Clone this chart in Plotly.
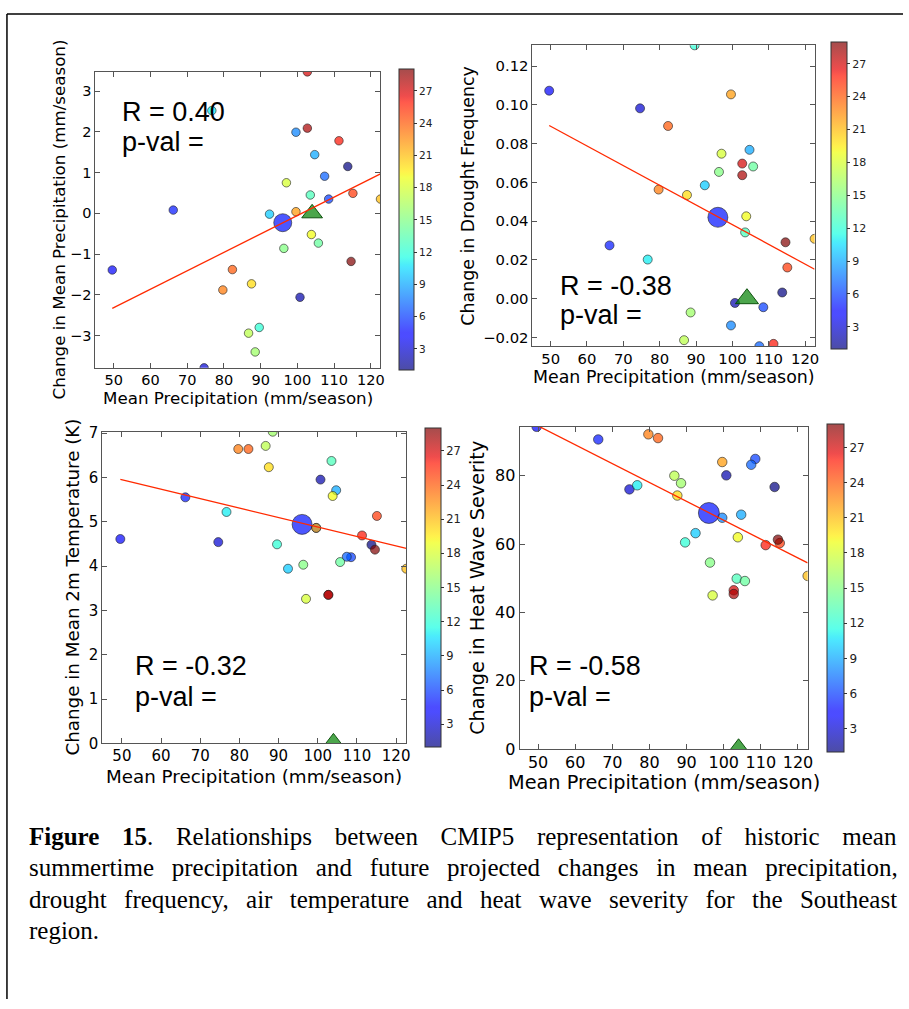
import numpy as np
import plotly.graph_objects as go

W, H = 909, 1009

# ---- data (29 CMIP5 models, coloured by model number) ----
MODEL_ID = list(range(1, 30))
HIST_PRECIP = [113.7, 100.7, 74.6, 49.6, 66.2, 108.5, 107.4, 99.6, 104.7, 92.4,
               76.7, 89.6, 103.5, 105.7, 96.3, 88.5, 86.7, 97.0, 103.8, 87.5,
               122.6, 99.6, 79.7, 82.3, 115.1, 111.3, 102.7, 102.7, 114.6]
D_PRECIP = [1.15, -2.06, -3.79, -1.39, 0.08, 0.35, 0.91, 1.99, 1.44, -0.02,
            2.52, -2.80, 0.45, -0.73, -0.86, -3.40, -2.94, 0.75, -0.52, -1.73,
            0.35, 0.04, -1.88, -1.38, 0.49, 1.78, 3.47, 2.09, -1.18]
D_DROUGHT = [0.0032, -0.0022, 0.0982, 0.1073, 0.0275, -0.0044, -0.0245, -0.0138, 0.0768, 0.0585,
             0.0202, 0.1307, 0.0342, 0.0682, 0.0654, -0.0071, -0.0214, 0.0748, 0.0425, 0.0535,
             0.0309, 0.1054, 0.0563, 0.0891, 0.0161, -0.0233, 0.0697, 0.0637, 0.0291]
D_TEMP = [4.48, 5.95, 4.54, 4.61, 5.55, 4.20, 4.21, 4.86, 5.71, 3.94,
          5.22, 4.49, 6.37, 4.09, 4.03, 7.03, 6.71, 3.26, 5.58, 6.23,
          3.94, 4.86, 6.64, 6.64, 5.13, 4.69, 3.35, 3.35, 4.37]
D_HEATWAVE = [76.7, 80.1, 76.0, 94.3, 90.6, 84.9, 83.2, 67.7, 68.6, 63.2,
              77.2, 60.5, 49.9, 49.2, 54.6, 77.8, 80.0, 45.0, 62.0, 74.2,
              50.7, 84.0, 92.1, 91.0, 60.3, 59.7, 46.5, 45.4, 61.3]

MEAN_X = 96.0
MEAN_Y = [-0.23, 0.042, 4.94, 69.1]
OBS_X = 104.0
OBS_Y = [0.0, 0.0, 0.0, 0.0]

R_TEXT = ["R = 0.40", "R = -0.38", "R = -0.32", "R = -0.58"]
Y_TITLES = ["Change in Mean Precipitation (mm/season)", "Change in Drought Frequency",
            "Change in Mean 2m Temperature (K)", "Change in Heat Wave Severity"]
X_TITLE = "Mean Precipitation (mm/season)"
X_TICKS = [50, 60, 70, 80, 90, 100, 110, 120]
Y_TICKS = [[-3, -2, -1, 0, 1, 2, 3],
           [-0.02, 0.0, 0.02, 0.04, 0.06, 0.08, 0.10, 0.12],
           [0, 1, 2, 3, 4, 5, 6, 7],
           [0, 20, 40, 60, 80]]
Y_FORMAT = ["", ".2f", "", ""]
CBAR_TICKS = [3, 6, 9, 12, 15, 18, 21, 24, 27]

CAPTION = [
    ("Figure 15", ". Relationships between CMIP5 representation of historic mean", 16.4),
    ("", "summertime precipitation and future projected changes in mean precipitation,", 11.5),
    ("", "drought frequency, air temperature and heat wave severity for the Southeast", 11.1),
    ("", "region.", 0),
]

# matplotlib "jet" with alpha 0.7
JET = [(0.0, (0, 0, 128)), (0.11, (0, 0, 255)), (0.125, (0, 0, 255)), (0.34, (0, 219, 255)),
       (0.35, (0, 230, 247)), (0.375, (21, 255, 226)), (0.64, (238, 255, 8)),
       (0.65, (247, 246, 0)), (0.66, (255, 236, 0)), (0.89, (255, 19, 0)),
       (0.91, (232, 0, 0)), (1.0, (128, 0, 0))]
JET_A = [[t, f"rgba({r},{g},{b},0.7)"] for t, (r, g, b) in JET]

# panel geometry in page pixels: plot box, colorbar, fonts, text spots
PANELS = [
    dict(box=(96, 66, 383, 367), cb=(401.7, 66, 367, 15), tick=14.5, title=16.7, cbt=10.5,
         ytx=59, xty=397.7, rpos=(121, 106.6, 137.6), ms=8.5, big=18, tri=18),
    dict(box=(536, 39, 820, 345), cb=(837, 38, 345, 16), tick=14.8, title=17.4, cbt=11,
         ytx=471, xty=376.7, rpos=(561.7, 283.9, 313.3), ms=9, big=20, tri=20),
    dict(box=(103, 432, 409, 749), cb=(428, 431, 750, 16), tick=15, title=18.3, cbt=11.5,
         ytx=73.5, xty=782.7, rpos=(134.3, 670.6, 702.3), ms=9, big=20, tri=20),
    dict(box=(523, 427, 813, 755), cb=(832, 427, 755, 17), tick=16, title=19.3, cbt=12,
         ytx=480, xty=789, rpos=(530, 670.6, 702.3), ms=9.5, big=21, tri=21),
]

SERIES = [D_PRECIP, D_DROUGHT, D_TEMP, D_HEATWAVE]

fig = go.Figure()
layout = {}
annotations = []
x = np.array(HIST_PRECIP)

for i, (vals, p) in enumerate(zip(SERIES, PANELS)):
    n = "" if i == 0 else str(i + 1)
    xa, ya = "x" + n, "y" + n
    x0, y0, x1, y1 = p["box"]
    cx, ct, cbm, cw = p["cb"]
    y = np.array(vals)

    fig.add_trace(go.Scatter(
        x=HIST_PRECIP, y=vals, mode="markers", xaxis=xa, yaxis=ya, showlegend=False,
        marker=dict(color=MODEL_ID, colorscale=JET_A, cmin=1, cmax=29, size=p["ms"],
                    line=dict(color="rgba(30,30,30,0.75)", width=0.8), showscale=True,
                    colorbar=dict(x=cx / W, xanchor="left", xpad=0, y=1 - (ct + cbm) / 2 / H,
                                  yanchor="middle", ypad=0, len=cbm - ct, lenmode="pixels",
                                  thickness=cw, outlinecolor="#333", outlinewidth=1,
                                  tickvals=CBAR_TICKS, ticks="outside", ticklen=3, tickcolor="#333",
                                  tickfont=dict(family="DejaVu Sans", size=p["cbt"], color="#222")))))
    fig.add_trace(go.Scatter(
        x=[MEAN_X], y=[MEAN_Y[i]], mode="markers", xaxis=xa, yaxis=ya, showlegend=False,
        marker=dict(color="rgba(0,15,255,0.7)", size=p["big"],
                    line=dict(color="rgba(30,30,30,0.75)", width=0.8))))
    fig.add_trace(go.Scatter(
        x=[OBS_X], y=[OBS_Y[i]], mode="markers", xaxis=xa, yaxis=ya, showlegend=False,
        marker=dict(color="rgba(0,128,0,0.7)", size=p["tri"], symbol="triangle-up",
                    line=dict(color="rgba(0,70,0,0.9)", width=1))))

    # least-squares line across the models
    slope, icpt = np.polyfit(x, y, 1)
    xl = np.array([x.min(), x.max()])
    fig.add_trace(go.Scatter(x=xl, y=slope * xl + icpt, mode="lines", xaxis=xa, yaxis=ya,
                             showlegend=False, line=dict(color="#ff2a00", width=1.3)))

    allv = vals + [MEAN_Y[i], OBS_Y[i]]
    common = dict(showline=True, mirror="ticks", linecolor="#555", linewidth=1, ticks="inside",
                  ticklen=5, tickcolor="#555", showgrid=False, zeroline=False,
                  tickfont=dict(family="DejaVu Sans", size=p["tick"], color="black"))
    layout["xaxis" + n] = dict(domain=[x0 / W, x1 / W], range=[45, max(HIST_PRECIP)], anchor=ya,
                               tickvals=X_TICKS, ticklabelstandoff=-1, **common)
    layout["yaxis" + n] = dict(domain=[1 - y1 / H, 1 - y0 / H], range=[min(allv), max(allv)],
                               anchor=xa, tickvals=Y_TICKS[i], tickformat=Y_FORMAT[i], **common)

    tf = dict(family="DejaVu Sans", size=p["title"], color="black")
    annotations.append(dict(text=X_TITLE, x=(x0 + x1) / 2 / W, y=1 - p["xty"] / H, xref="paper",
                            yref="paper", xanchor="center", yanchor="middle", showarrow=False, font=tf))
    annotations.append(dict(text=Y_TITLES[i], x=p["ytx"] / W, y=1 - (y0 + y1) / 2 / H, xref="paper",
                            yref="paper", xanchor="center", yanchor="middle", textangle=-90,
                            showarrow=False, font=tf))
    rx, ry, py = p["rpos"]
    rf = dict(family="Liberation Sans", size=27, color="black")
    annotations.append(dict(text=R_TEXT[i], x=rx / W, y=1 - ry / H, xref="paper", yref="paper",
                            xanchor="left", yanchor="middle", showarrow=False, font=rf))
    annotations.append(dict(text="p-val =", x=rx / W, y=1 - py / H, xref="paper", yref="paper",
                            xanchor="left", yanchor="middle", showarrow=False, font=rf))

# caption, one annotation per justified line
for k, (bold, rest, ws) in enumerate(CAPTION):
    sp = f"<span style='word-spacing:{ws}px'>"
    txt = (f"<b>{sp}{bold}</span></b>" if bold else "") + f"{sp}{rest}</span>"
    annotations.append(dict(text=txt, x=27 / W, y=1 - (843.6 + 32 * k) / H, xref="paper",
                            yref="paper", xanchor="left", yanchor="middle", showarrow=False,
                            font=dict(family="Liberation Serif", size=25, color="black")))

# page frame (top and left edges are visible)
shapes = [
    dict(type="line", xref="paper", yref="paper", x0=7 / W, x1=1, y0=1 - 7 / H, y1=1 - 7 / H,
         line=dict(color="black", width=1.5)),
    dict(type="line", xref="paper", yref="paper", x0=7 / W, x1=7 / W, y0=0, y1=1 - 7 / H,
         line=dict(color="black", width=1.5)),
]

fig.update_layout(width=W, height=H, margin=dict(l=0, r=0, t=0, b=0), paper_bgcolor="white",
                  plot_bgcolor="white", annotations=annotations, shapes=shapes, **layout)

# the page body has an 8px default margin; drop it so the figure fills the window
fig.write_html("out.html", config={"displayModeBar": False},
               post_script="document.body.style.margin='0';")
